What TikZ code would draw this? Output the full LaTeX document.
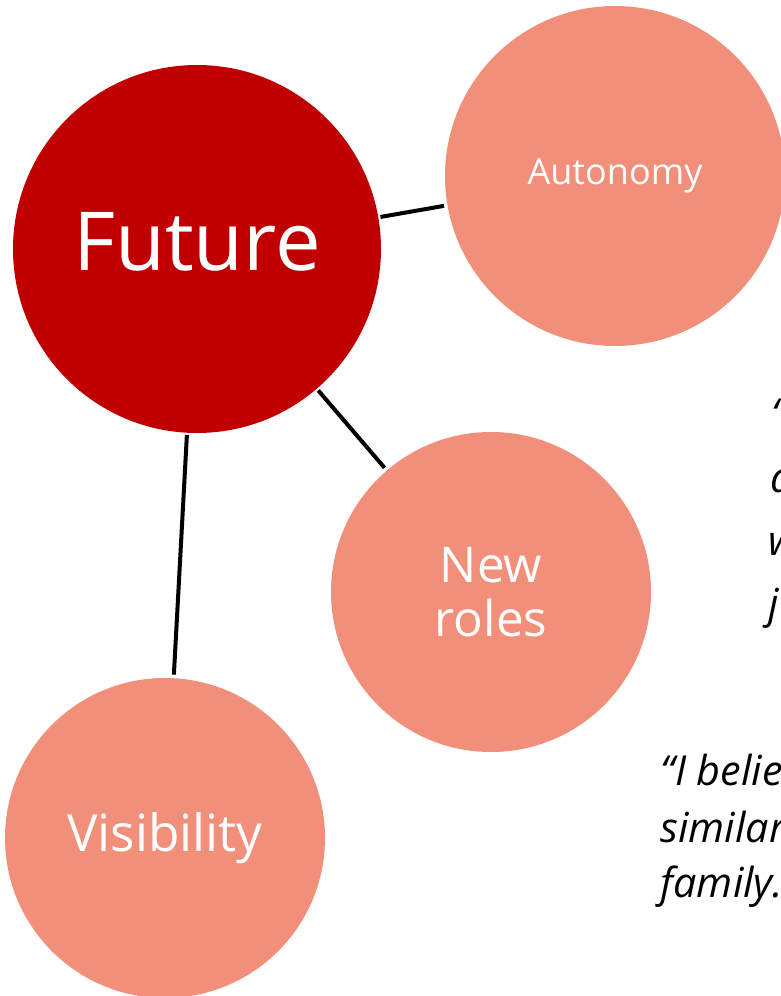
\documentclass[tikz,border=0pt]{standalone}
\usepackage{fontspec}
\setmainfont{Open Sans}
\definecolor{futurered}{HTML}{C00000}
\definecolor{salmon}{HTML}{F18F7B}

\begin{document}
\begin{tikzpicture}[x=0.75pt,y=-0.75pt,
    bubble/.style={circle,fill=salmon,text=white,inner sep=0pt,align=center},
    link/.style={line width=3pt,shorten <=1.5pt,shorten >=2.5pt},
    quoteline/.style={anchor=base west,font=\itshape\fontsize{31}{36}\selectfont}]
    \useasboundingbox (0,0) rectangle (781,996);
    \clip (0,0) rectangle (781,996);
    % centres of the circles
    \coordinate (F) at (197,249);
    \coordinate (A) at (615,176);
    \coordinate (N) at (491,592);
    \coordinate (V) at (165,838);
    \node[circle,fill=futurered,inner sep=0pt,minimum size=276pt] (future) at (F) {};
    \node[text=white,font=\fontsize{61}{66}\selectfont] (futurelabel) at ([yshift=5pt]F) {Future};
    \node[bubble,minimum size=255pt,font=\fontsize{27}{32}\selectfont] (autonomy) at (A) {Autonomy};
    \node[bubble,minimum size=240pt,font=\fontsize{37}{41}\selectfont] (newroles) at (N) {New\\roles};
    \node[bubble,minimum size=240pt,font=\fontsize{38.5}{42}\selectfont] (visibility) at (V) {Visibility};
    % connectors
    \draw[link] (future)--(autonomy);
    \draw[link] (future)--(newroles);
    \draw[link] (future)--(visibility);
    % quotes running off the right edge
    \node[quoteline] (qa1) at (767,428) {“};
    \node[quoteline] (qa2) at (766,492) {a};
    \node[quoteline] (qa3) at (764,555) {w};
    \node[quoteline] (qa4) at (764,618) {j};
    \node[quoteline] (qb1) at (656,785) {“I belie};
    \node[quoteline] (qb2) at (656,842) {similar};
    \node[quoteline] (qb3) at (656,897) {family.};
\end{tikzpicture}
\end{document}
